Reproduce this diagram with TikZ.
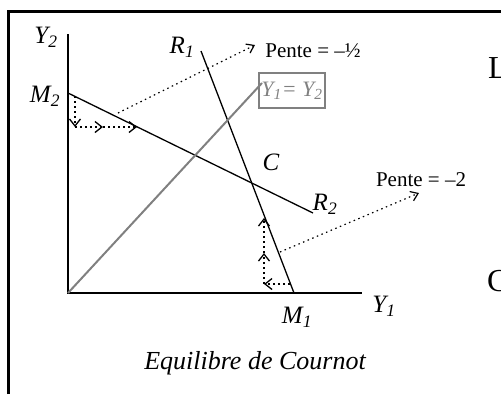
\documentclass[tikz,border=0pt]{standalone}
\usepackage{fontspec}
\setmainfont{Liberation Serif}
\usetikzlibrary{arrows.meta}
\newcommand\sbs[1]{\textsubscript{#1}}
\begin{document}
\begin{tikzpicture}[x=1pt,y=-1pt,
  frame/.style={line width=2.7pt},
  axis/.style={line width=1.3pt},
  curve/.style={line width=1.3pt},
  diag/.style={line width=2pt, draw=gray},
  lbl/.style={font=\fontsize{25}{30}\selectfont\itshape, inner sep=0pt},
  pente/.style={font=\fontsize{21}{25}\selectfont, inner sep=0pt},
  bigtxt/.style={font=\fontsize{32}{38}\selectfont, inner sep=0pt, anchor=base west},
  adj/.style={line width=2pt, dash pattern=on 2pt off 3pt, -{Straight Barb[length=7pt,width=11pt,line width=1.3pt]}},
  ptr/.style={line width=1.2pt, dash pattern=on 1.5pt off 3.5pt, -{Straight Barb[length=7pt,width=10pt,line width=1.2pt]}}]
\useasboundingbox (0,0) rectangle (501,394);
% frame
\coordinate (fbl) at (8.7,394);
\coordinate (ftl) at (8.7,11.3);
\coordinate (ftr) at (501,11.3);
\draw[frame] (fbl) -- (ftl) -- (ftr);
% axes
\coordinate (O) at (68,293);
\coordinate (ytop) at (68,34);
\coordinate (xend) at (362,293);
\draw[axis] (ytop) -- (O) -- (xend);
% reaction curves
\coordinate (M2) at (68,93);
\coordinate (R2end) at (313,213);
\coordinate (R1top) at (201,51);
\coordinate (M1) at (294,293);
\draw[curve] (M2) -- (R2end);
\draw[curve] (R1top) -- (M1);
% 45 degree line and its box
\node[draw=gray, line width=2pt, minimum width=66pt, minimum height=35pt, inner sep=0pt,
      text=gray, font=\fontsize{22}{26}\selectfont\itshape] (box) at (292,90.5) {Y\sbs{1}= Y\sbs{2}};
\coordinate (dend) at (262,83);
\draw[diag] (O) -- (dend);
% labels
\node[lbl] (lY2) at (46,37) {Y\sbs{2}};
\node[lbl] (lM2) at (45,96) {M\sbs{2}};
\node[lbl] (lR1) at (182,47) {R\sbs{1}};
\node[lbl] (lC) at (271,162) {C};
\node[lbl] (lR2) at (325,204) {R\sbs{2}};
\node[lbl] (lM1) at (297,317) {M\sbs{1}};
\node[lbl] (lY1) at (384,306) {Y\sbs{1}};
\node[font=\fontsize{26}{31}\selectfont\itshape, inner sep=0pt] (cap) at (255,363) {Equilibre de Cournot};
% slope labels and pointers
\node[pente] (p1) at (313,51) {Pente = –½};
\node[pente] (p2) at (421,180) {Pente = –2};
\coordinate (s1) at (118,113);
\coordinate (t1) at (255,45);
\draw[ptr] (s1) -- (t1);
\coordinate (s2) at (280,252);
\coordinate (t2) at (419,193);
\draw[ptr] (s2) -- (t2);
% adjustment arrows near M2
\coordinate (a1) at (75,96);
\coordinate (a2) at (75,127);
\coordinate (a3) at (103,127);
\coordinate (a4) at (137,127);
\draw[adj] (a1) -- (a2);
\draw[adj] (a2) -- (a3);
\draw[adj] (a3) -- (a4);
% adjustment arrows near M1
\coordinate (b1) at (290,284);
\coordinate (b2) at (264,284);
\coordinate (b3) at (264,253);
\coordinate (b4) at (264,218);
\draw[adj] (b1) -- (b2);
\draw[adj] (b2) -- (b3);
\draw[adj] (b3) -- (b4);
% fragments of page text at the right edge
\node[bigtxt] (fragL) at (488,78) {L};
\node[bigtxt] (fragC) at (487,291) {C};
\end{tikzpicture}
\end{document}
